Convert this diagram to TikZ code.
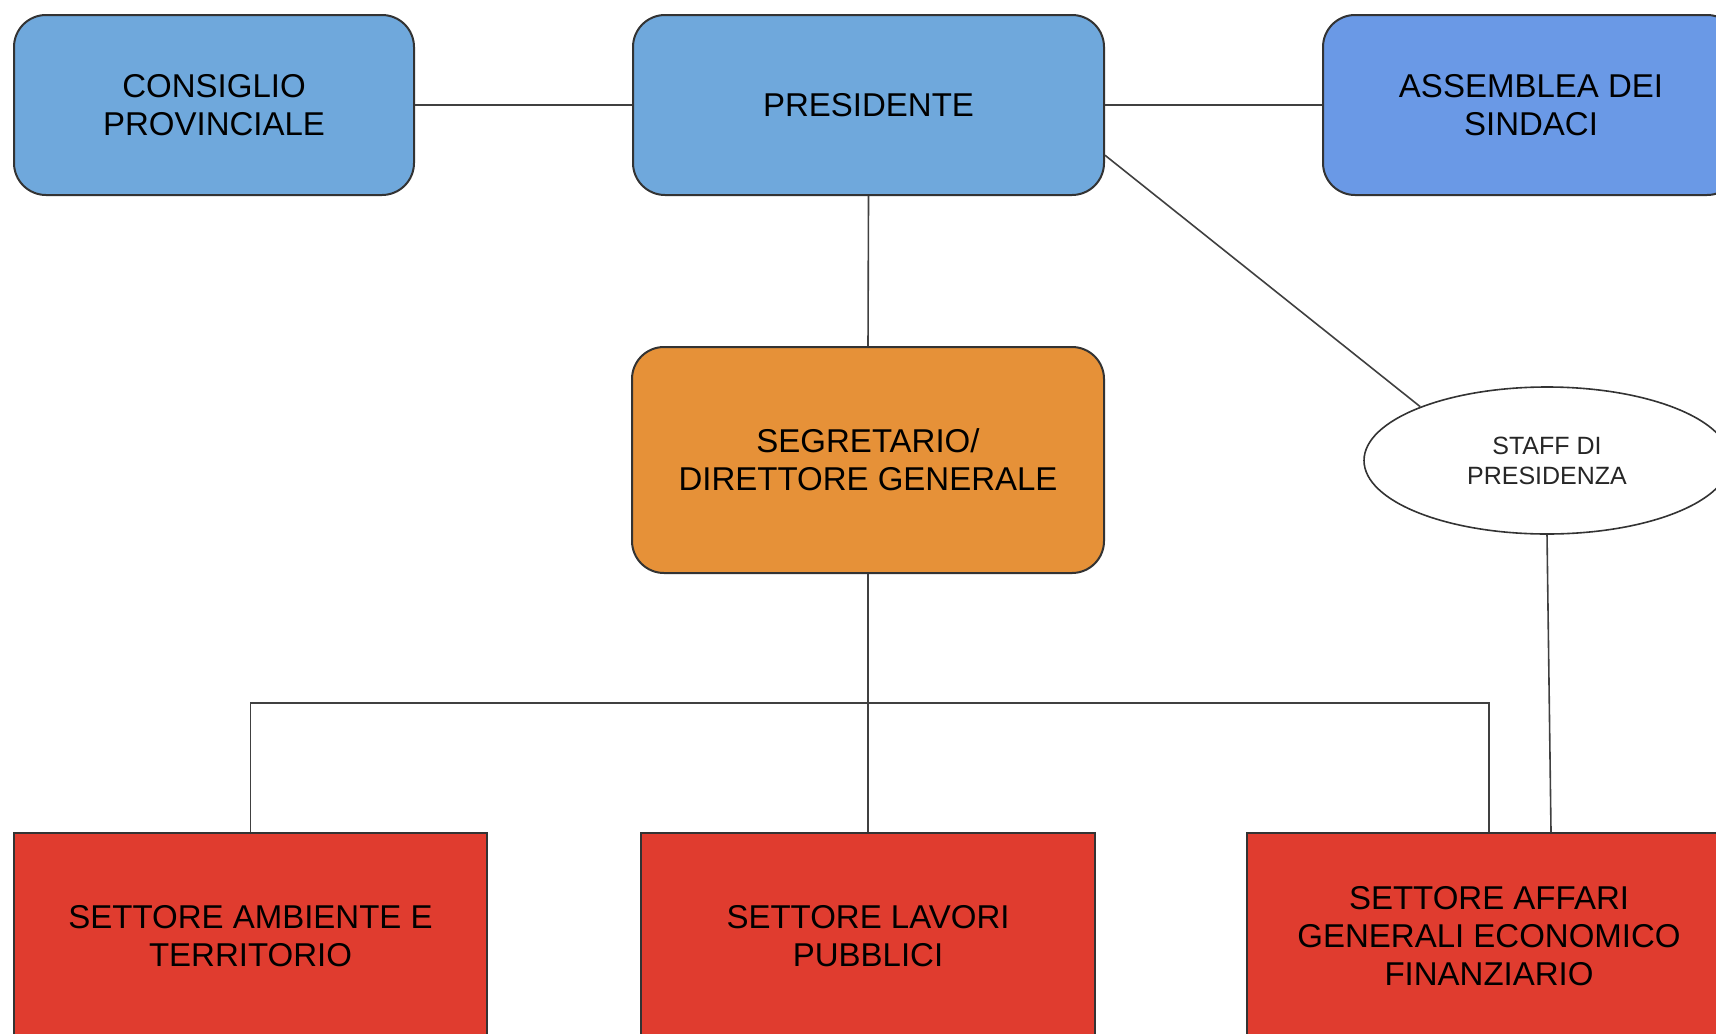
\documentclass[tikz,border=0pt]{standalone}
\usepackage{fontspec}
\setmainfont{Liberation Sans}
\usetikzlibrary{shapes.geometric}
\definecolor{azzurro}{HTML}{6FA8DC}
\definecolor{blu}{HTML}{6A99E6}
\definecolor{arancio}{HTML}{E69138}
\definecolor{rosso}{HTML}{E03C2F}
\definecolor{bordo}{HTML}{333333}
\begin{document}
\begin{tikzpicture}[x=0.5pt,y=-0.5pt,
  ente/.style={draw=bordo,line width=1pt,rounded corners=16pt,align=center,inner sep=0pt,
    text=black,font=\fontsize{16.5}{19}\selectfont},
  settore/.style={draw=bordo,line width=1pt,fill=rosso,align=center,inner sep=0pt,
    minimum height=103pt,text=black,font=\fontsize{16.5}{19}\selectfont},
  linea/.style={draw=black!75,line width=0.8pt}]
\useasboundingbox (0,0) rectangle (1716,1033);
\node (cons) at (214,105)[ente,fill=azzurro,minimum width=200pt,minimum height=90pt]{CONSIGLIO\\PROVINCIALE};
\node (pres) at (868.5,105)[ente,fill=azzurro,minimum width=235.5pt,minimum height=90pt]{PRESIDENTE};
\node (assem) at (1531,105)[ente,fill=blu,minimum width=208pt,minimum height=90pt]{ASSEMBLEA DEI\\SINDACI};
\node (segr) at (868,460)[ente,fill=arancio,minimum width=236pt,minimum height=113pt]{SEGRETARIO/\\DIRETTORE GENERALE};
\node (staff) at (1547,460.5)[ellipse,draw=bordo,line width=0.8pt,fill=white,inner sep=0pt,
  minimum width=183pt,minimum height=73.5pt,align=center,text=black!85,
  font=\fontsize{12.5}{15}\selectfont]{STAFF DI\\PRESIDENZA};
\node (amb) at (250.5,936)[settore,minimum width=236.5pt]{SETTORE AMBIENTE E\\TERRITORIO};
\node (lav) at (868,936)[settore,minimum width=227pt]{SETTORE LAVORI\\PUBBLICI};
\node (aff) at (1489,936)[settore,minimum width=242pt]{SETTORE AFFARI\\GENERALI ECONOMICO\\FINANZIARIO};
\coordinate (bus) at (868,703);
\draw[linea] (cons.east) -- (pres.west);
\draw[linea] (pres.east) -- (assem.west);
\draw[linea] (pres.south) -- (segr.north);
\draw[linea] (pres.-12.5) -- (staff.157.3);
\draw[linea] (segr.south) -- (bus);
\draw[linea] (amb.north) |- (bus) -| (aff.north);
\draw[linea] (bus) -- (lav.north);
\draw[linea] (staff.south) -- ([xshift=31pt]aff.north);
\end{tikzpicture}
\end{document}
